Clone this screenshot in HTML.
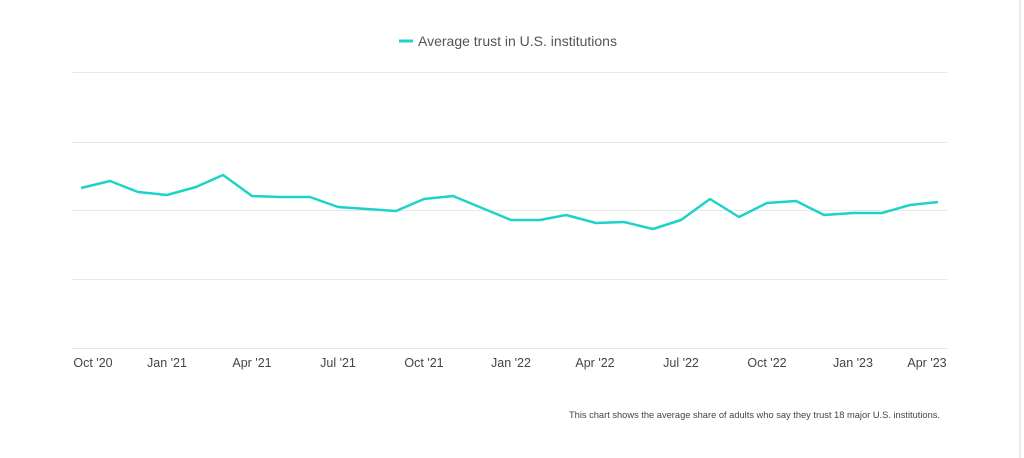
<!DOCTYPE html>
<html><head><style>
body{margin:0;background:#fff;width:1024px;height:458px;overflow:hidden;font-family:"Liberation Sans",sans-serif}
</style></head><body>
<svg width="1024" height="458" xmlns="http://www.w3.org/2000/svg" style="position:absolute;left:0;top:0">
<line x1="1020" y1="0" x2="1020" y2="458" stroke="#d8d8d8" stroke-width="1"/>
<g stroke="#e6e6e6" stroke-width="1">
<line x1="72" y1="72.5" x2="947" y2="72.5"/>
<line x1="72" y1="142.5" x2="947" y2="142.5"/>
<line x1="72" y1="210.5" x2="947" y2="210.5"/>
<line x1="72" y1="279.5" x2="947" y2="279.5"/>
<line x1="72" y1="348.5" x2="947" y2="348.5"/>
</g>
<line x1="399" y1="41" x2="413" y2="41" stroke="#1dd3c8" stroke-width="3"/>
<text x="418" y="46" font-size="14" fill="#555">Average trust in U.S. institutions</text>
<polyline fill="none" stroke="#1dd3c8" stroke-width="2.5" stroke-linejoin="round" points="81,188 110,181 138,192 167,195 196,187 223,175 252,196 281,197 310,197 338,207 367,209 396,211 424,199 453,196 482,208 511,220 540,220 566,215 596,223 624,222 653,229 681,220 710,199 739,217 767,203 796,201 824,215 853,213 882,213 910,205 938,202"/>
<g font-size="12.5" fill="#444" text-anchor="middle">
<text x="93" y="367">Oct '20</text>
<text x="167" y="367">Jan '21</text>
<text x="252" y="367">Apr '21</text>
<text x="338" y="367">Jul '21</text>
<text x="424" y="367">Oct '21</text>
<text x="511" y="367">Jan '22</text>
<text x="595" y="367">Apr '22</text>
<text x="681" y="367">Jul '22</text>
<text x="767" y="367">Oct '22</text>
<text x="853" y="367">Jan '23</text>
<text x="927" y="367">Apr '23</text>
</g>
<text x="940" y="418" font-size="9.3" fill="#444" text-anchor="end">This chart shows the average share of adults who say they trust 18 major U.S. institutions.</text>
</svg>
</body></html>
